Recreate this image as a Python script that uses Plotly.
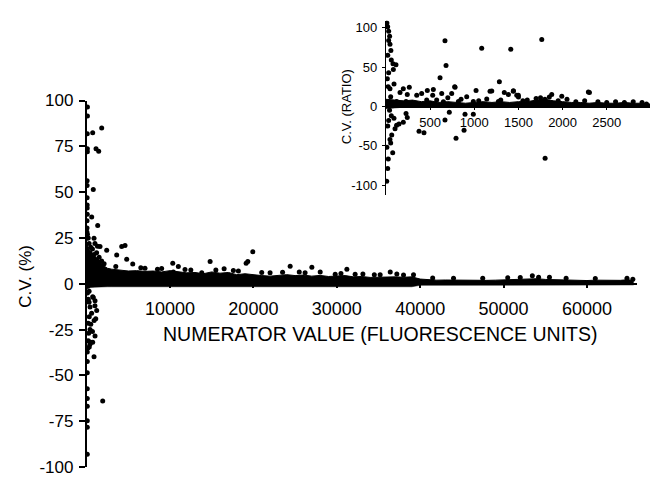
import plotly.graph_objects as go

FONT = "Liberation Sans, Arial, sans-serif"

# ---------------- main panel data ----------------
main_xticks = [10000, 20000, 30000, 40000, 50000, 60000]
main_xticklabels = ["10000", "20000", "30000", "40000", "50000", "60000"]
main_yticks = [-100, -75, -50, -25, 0, 25, 50, 75, 100]
main_yticklabels = ["-100", "-75", "-50", "-25", "0", "25", "50", "75", "100"]

# individual (resolved) points
main_pts_x = [100, 100, 80, 730, 1810, 1130, 1450, 90, 90, 60, 60, 800, 70, 70, 50, 610, 1330,
              40, 40, 890, 1610, 2410, 3610, 4210, 4610, 4810, 5530,
              100, 200, 300, 500, 700, 400, 900, 1200, 1500, 1800, 2100, 600, 1000, 1300, 60, 80, 50,
              10330, 11000, 14810, 13810, 16490, 17600, 19130, 19330, 19930, 24410, 27010, 28010,
              29810, 31210, 33130, 36410, 53450, 7000, 8500, 12500, 22000, 25500, 34500, 38000,
              52000, 55500, 10400,
              3500, 6500, 9000, 11800, 15500, 18200, 21000, 23500, 26200, 30500, 32200, 35200,
              37200, 39200, 41500, 44000, 47500, 50500, 54200, 57500, 61000, 64800, 65500,
              200, 730, 1010, 1210, 410, 320, 200, 410, 1010, 200, 490, 730, 320, 80, 890, 80, 80,
              80, 80, 1930, 80, 80, 80, 80, 800, 300, 600, 900, 500, 250, 700, 400, 150, 1000,
              1100, 100, 300]
main_pts_y = [96.4, 91.6, 81.9, 82.4, 85.0, 73.7, 72.3, 73.7, 72.0, 56.2, 53.6, 51.5, 43.0, 41.4,
              34.4, 36.5, 31.8, 28.3, 24.8, 24.8, 20.4, 18.3, 15.7, 20.4, 20.9, 13.4, 10.8,
              27, 25, 22, 20, 19, 17, 16, 17, 14.5, 12.5, 11, 13, 22, 20.5, 47, 38, 30.5,
              11.2, 9.4, 12.2, 6.0, 8.2, 7.3, 11.2, 12.2, 17.5, 9.6, 9.1, 6.5,
              5.2, 7.9, 5.4, 6.5, 4.4, 8.5, 8, 7.5, 6, 6.5, 5, 4.8,
              3.5, 3.6, 6.5,
              9.5, 8.8, 8.3, 7.8, 7.6, 7, 6.2, 6.3, 6.1, 5.6, 5.2, 5.0,
              5.3, 4.9, 3.2, 3.0, 3.1, 3.3, 3.6, 3.0, 2.9, 3.1, 2.5,
              -8.4, -7.1, -9.2, -14.5, -12.7, -18, -21.5, -24.9, -28.4, -31, -31.9, -31.9, -34.5,
              -37.2, -39.8, -42.4, -48.5, -57.2, -62.5, -63.9, -66.8, -74.7, -78.2, -93, -7.5,
              -10, -16, -20, -22, -27, -26, -33, -35, -12, -19, -5, -4]

# envelope of the dense (unresolved) cloud of points
main_band_x = [0, 200, 500, 1000, 1500, 2000, 2500, 3000] + [k * 1000 for k in range(4, 66)] + [65600]
main_band_top = [22, 20, 17, 15, 13, 10, 8.5, 8,
                 7.5, 7, 7.2, 6.8, 7, 6.5, 7.2, 6.8, 6, 6.2, 5.5, 6.5, 5.8, 6.2, 5, 5.5,
                 4.8, 4.5, 4.2, 4.8, 5, 4.5, 4.8, 4.2, 4.6, 4, 4.2, 4.5, 3.8, 4, 3.5, 3.6,
                 4, 3.8, 3.6, 3.8, 2.6, 2.2, 2, 2.1, 2, 1.9, 2, 2.1, 1.9, 2, 2.1, 2.4, 2.6,
                 2.5, 2.8, 2.4, 2.2, 2, 2.1, 1.9, 1.8, 2, 1.9, 1.8, 1.9, 2.3,
                 1.2]
main_band_bottom = [-3, -2.5, -2, -1.8, -1.6, -1.6, -1.6, -1.6] + \
                   [-1.6] * 36 + [-0.8] * 26 + [-0.6]

# ---------------- inset data ----------------
inset_xticks = [500, 1000, 1500, 2000, 2500]
inset_xticklabels = ["500", "1000", "1500", "2000", "2500"]
inset_yticks = [-100, -50, 0, 50, 100]
inset_yticklabels = ["-100", "-50", "0", "50", "100"]

inset_pts_x = [10, 19, 30, 41, 30, 45, 55, 60, 113, 30, 83, 79, 20, 15, 25,
               668, 1084, 1413, 1764, 680, 612, 1284, 778, 1020, 1198, 1340, 1443, 2304, 1481,
               1386, 1500, 1991, 1877,
               91, 159, 227, 264, 348, 404, 468, 529, 574, 631, 121, 309, 196, 53, 241, 461, 744,
               820, 914, 989, 1141, 1273, 45, 536, 782, 1178, 1442, 2292, 1499,
               1600, 1700, 1750, 1800, 1850, 1950, 2050, 2150, 2250, 2400, 2500, 2600, 2700, 2800,
               2900, 2950, 1550, 1300, 1050, 850, 700, 650,
               668, 717, 895, 989, 884, 793, 374, 430, 227, 241, 196, 1802, 147, 102, 65, 53, 76,
               26, 19, 8, 40, 60, 30, 90, 20, 45, 10, 120]
inset_pts_y = [106, 101, 95.5, 89, 83.7, 79, 71, 58.8, 52.8, 42.6, 46.7, 54, 65, 35, 25,
               83.2, 73.8, 72.6, 84.8, 51.9, 36.5, 31.3, 24.8, 20.3, 19.5, 17.5, 19.9, 17.5, 14.2,
               15, 12, 13, 15,
               28.4, 17.5, 6.1, 24.3, 14.2, 16.3, 20.3, 14.2, 8.2, 16.3, 6.1, 2, 22.4, 12.2, 15,
               8.2, 16.3, 6.1, 12.2, 6.1, 9.4, 6.1, 22.4, 21.5, 24.3, 19.1, 19.1, 18.2, 14.2,
               8, 10, 11, 9, 12, 7, 9, 6, 7, 6, 5, 6, 5, 6, 5, 3, 7, 8, 7, 9, 11, 6,
               -17.4, -7.3, -10.1, -10.1, -30.4, -40.5, -31.6, -33.6, -9.2, -14.1, -20.2, -66,
               -22.3, -28.3, -36.5, -46.6, -58.8, -66.9, -79, -95, -5, -12, -18, -15, -25, -42,
               -52, -24]

inset_band_x = [k * 100 for k in range(30)] + [2990]
inset_band_top = [9, 8, 7, 8, 6, 7, 5, 6, 5, 4, 5, 6, 5, 6, 5, 6, 6, 8, 9, 7, 6, 5, 5, 4, 5,
                  4, 4, 5, 4, 4, 3]
inset_band_bottom = [-3, -2] + [-1] * 29

# ---------------- figure ----------------
fig = go.Figure()

# main dense cloud
fig.add_trace(go.Scatter(x=main_band_x, y=main_band_bottom, mode="lines",
                         line=dict(color="black", width=0.5), showlegend=False,
                         hoverinfo="skip", xaxis="x", yaxis="y"))
fig.add_trace(go.Scatter(x=main_band_x, y=main_band_top, mode="lines", fill="tonexty",
                         fillcolor="black", line=dict(color="black", width=1),
                         showlegend=False, hoverinfo="skip", xaxis="x", yaxis="y"))
fig.add_trace(go.Scatter(x=main_pts_x, y=main_pts_y, mode="markers",
                         marker=dict(color="black", size=5), showlegend=False,
                         xaxis="x", yaxis="y"))

# inset dense cloud
fig.add_trace(go.Scatter(x=inset_band_x, y=inset_band_bottom, mode="lines",
                         line=dict(color="black", width=0.5), showlegend=False,
                         hoverinfo="skip", xaxis="x2", yaxis="y2"))
fig.add_trace(go.Scatter(x=inset_band_x, y=inset_band_top, mode="lines", fill="tonexty",
                         fillcolor="black", line=dict(color="black", width=1),
                         showlegend=False, hoverinfo="skip", xaxis="x2", yaxis="y2"))
fig.add_trace(go.Scatter(x=inset_pts_x, y=inset_pts_y, mode="markers",
                         marker=dict(color="black", size=5), showlegend=False,
                         xaxis="x2", yaxis="y2"))

# the page places the plot 8px in from the top-left corner
OFF = 8
W, H = 660 - OFF, 481 - OFF
def px_x(p):
    return (p - OFF) / W
def px_y(p):
    return (H - (p - OFF)) / H

axis_common = dict(showgrid=False, zeroline=False, showline=True, linecolor="black",
                   ticks="outside", tickcolor="black", ticklabeloverflow="allow")

fig.update_layout(
    width=W, height=H,
    margin=dict(l=0, r=0, t=0, b=0),
    paper_bgcolor="white", plot_bgcolor="rgba(0,0,0,0)",
    font=dict(family=FONT, color="black"),
    xaxis=dict(**axis_common, domain=[px_x(86.6), px_x(637)], range=[0, 66000],
               anchor="free", position=px_y(285.7),
               tickvals=main_xticks, ticktext=main_xticklabels, ticklen=4, tickwidth=1.5,
               linewidth=1.5, tickfont=dict(size=18, family=FONT), ticklabelstandoff=5),
    yaxis=dict(**axis_common, domain=[px_y(477), px_y(95)], range=[-100, 100],
               anchor="x", tickvals=main_yticks, ticktext=main_yticklabels, ticklen=6,
               tickwidth=1.5, linewidth=1.5, tickfont=dict(size=17, family=FONT),
               ticklabelstandoff=2),
    xaxis2=dict(**axis_common, domain=[px_x(386), px_x(650)], range=[0, 2990],
                anchor="free", position=px_y(101.4),
                tickvals=inset_xticks, ticktext=inset_xticklabels, ticklen=2, tickwidth=1,
                linewidth=1.2, tickfont=dict(size=13, family=FONT), ticklabelstandoff=2),
    yaxis2=dict(**axis_common, domain=[px_y(193), px_y(11.7)], range=[-112, 109],
                anchor="x2", tickvals=inset_yticks, ticktext=inset_yticklabels, ticklen=3,
                tickwidth=1, linewidth=1.2, tickfont=dict(size=13, family=FONT),
                ticklabelstandoff=2),
    annotations=[
        dict(text="NUMERATOR VALUE (FLUORESCENCE UNITS)", xref="paper", yref="paper",
             x=px_x(379.5), y=px_y(338), xanchor="center", yanchor="middle",
             showarrow=False, font=dict(size=19.5, family=FONT)),
        dict(text="C.V. (%)", xref="paper", yref="paper", x=px_x(25.5), y=px_y(278),
             xanchor="center", yanchor="middle", textangle=-90, showarrow=False,
             font=dict(size=17, family=FONT)),
        dict(text="C.V. (RATIO)", xref="paper", yref="paper", x=px_x(346.5), y=px_y(101.5),
             xanchor="center", yanchor="middle", textangle=-90, showarrow=False,
             font=dict(size=13, family=FONT)),
    ],
)

fig.write_html("out.html")
